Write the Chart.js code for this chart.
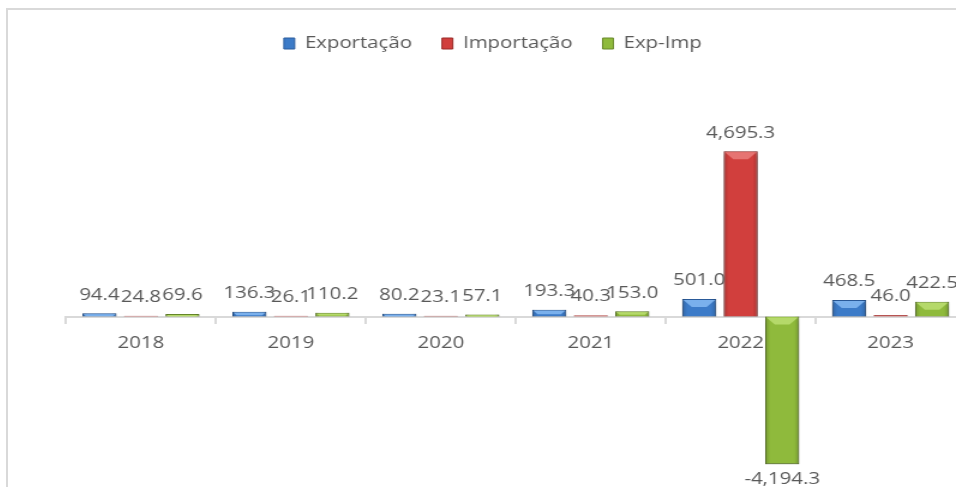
<!DOCTYPE html>
<html>
<head>
<meta charset="utf-8">
<script src="https://cdn.jsdelivr.net/npm/chart.js@4.4.0/dist/chart.umd.min.js"></script>
<style>
  html, body { margin: 0; padding: 0; background: #fff; overflow: hidden; }
  #frame {
    position: absolute; left: 6px; top: 8px;
    border-left: 2px solid #d9d9d9; border-top: 2px solid #d9d9d9;
    width: 1000px; height: 520px;
  }
  /* the original export is stretched sideways a little */
  #stretch { transform: scaleX(1.2); transform-origin: 0 0; width: 820px; height: 520px; }
</style>
</head>
<body>
<div id="frame"><div id="stretch"><canvas id="tradeChart" width="820" height="520"></canvas></div></div>
<script>
const years = ["2018", "2019", "2020", "2021", "2022", "2023"];
const exportacao = [94.4, 136.3, 80.2, 193.3, 501.0, 468.5];
const importacao = [24.8, 26.1, 23.1, 40.3, 4695.3, 46.0];
const expImp = [69.6, 110.2, 57.1, 153.0, -4194.3, 422.5];

const fills = ["#3c7bc8", "#d13f3d", "#8fba3c"];
const bevels = ["#7ab0ec", "#e67472", "#b5d96a"];
const edges = ["#2b5c9c", "#992b29", "#68892a"];

// soft shadow under each bar plus a little bevel, like the spreadsheet original
const barShadow = {
  id: "barShadow",
  beforeDatasetDraw(chart) {
    const ctx = chart.ctx;
    ctx.save();
    ctx.shadowColor = "rgba(0,0,0,0.35)";
    ctx.shadowBlur = 5;
    ctx.shadowOffsetY = 3;
  },
  afterDatasetDraw(chart, args) {
    chart.ctx.restore();
    const ctx = chart.ctx;
    const i = args.index;
    args.meta.data.forEach((bar) => {
      const top = Math.min(bar.y, bar.base);
      const h = Math.abs(bar.base - bar.y);
      const left = bar.x - bar.width / 2;
      const right = bar.x + bar.width / 2;
      if (h < 2) return;
      const g = ctx.createLinearGradient(left, 0, right, 0);
      g.addColorStop(0, "rgba(0,0,0,0.18)");
      g.addColorStop(0.15, "rgba(0,0,0,0)");
      g.addColorStop(0.85, "rgba(0,0,0,0)");
      g.addColorStop(1, "rgba(0,0,0,0.18)");
      ctx.fillStyle = g;
      ctx.fillRect(left, top, bar.width, h);
      const b = Math.min(7, h / 2);
      ctx.fillStyle = bevels[i];
      ctx.beginPath();
      ctx.moveTo(left + 1, top + 1);
      ctx.lineTo(right - 1, top + 1);
      ctx.lineTo(right - 1 - b, top + 1 + b);
      ctx.lineTo(left + 1 + b, top + 1 + b);
      ctx.closePath();
      ctx.fill();
    });
  },
};

// value labels above / below the bars
const valueLabels = {
  id: "valueLabels",
  afterDatasetsDraw(chart) {
    const ctx = chart.ctx;
    ctx.save();
    ctx.font = "17px 'Open Sans'";
    ctx.fillStyle = "#595959";
    ctx.textAlign = "center";
    chart.data.datasets.forEach((ds, i) => {
      chart.getDatasetMeta(i).data.forEach((bar, j) => {
        const v = ds.data[j];
        const txt = v.toLocaleString("en-US", { minimumFractionDigits: 1, maximumFractionDigits: 1 });
        if (v >= 0) {
          ctx.textBaseline = "bottom";
          ctx.fillText(txt, bar.x, bar.y - 10);
        } else {
          ctx.textBaseline = "top";
          ctx.fillText(txt, bar.x, bar.y + 6);
        }
      });
    });
    ctx.restore();
  },
};

new Chart(document.getElementById("tradeChart"), {
  type: "bar",
  data: {
    labels: years,
    datasets: [
      { label: "Exportação", data: exportacao, backgroundColor: fills[0], borderColor: edges[0], borderWidth: 1 },
      { label: "Importação", data: importacao, backgroundColor: fills[1], borderColor: edges[1], borderWidth: 1 },
      { label: "Exp-Imp", data: expImp, backgroundColor: fills[2], borderColor: edges[2], borderWidth: 1 },
    ],
  },
  options: {
    responsive: false,
    animation: false,
    categoryPercentage: 0.83,
    barPercentage: 0.82,
    layout: { padding: { left: 10, right: 22, top: 0, bottom: 0 } },
    plugins: {
      legend: {
        position: "top",
        labels: {
          font: { family: "Open Sans", size: 17 },
          color: "#595959",
          boxWidth: 9,
          boxHeight: 11,
          padding: 25,
        },
      },
      tooltip: { enabled: false },
    },
    scales: {
      x: {
        position: { y: 0 },
        grid: { drawOnChartArea: false, drawTicks: true, tickLength: 6, color: "#d9d9d9", lineWidth: 2 },
        border: { color: "#d9d9d9", width: 2 },
        ticks: { font: { family: "Open Sans", size: 17 }, color: "#595959", padding: 10 },
      },
      y: {
        min: -6061,
        max: 7228,
        grid: { display: false },
        border: { display: false },
        ticks: { display: false },
        afterFit(scale) { scale.width = 38.3; },
      },
    },
  },
  plugins: [barShadow, valueLabels],
});
</script>
</body>
</html>
